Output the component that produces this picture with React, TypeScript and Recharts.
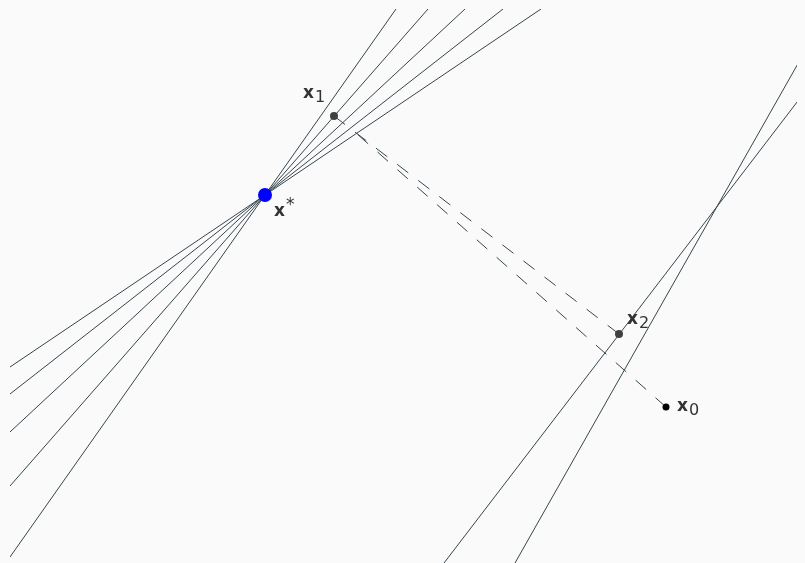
import React from 'react';
import { ScatterChart, Scatter, XAxis, YAxis, ReferenceLine } from 'recharts';

// Each segment is [xStart, yStart, xEnd, yEnd] in plot units (y grows upward).
// The five constraint lines meeting at x*
const pencilLines = [
  [0, 0.06, 3.86, 5.54],
  [0, 0.77, 4.18, 5.54],
  [0, 1.31, 4.55, 5.54],
  [0, 1.69, 4.93, 5.54],
  [0, 1.96, 5.31, 5.54],
];

// The two lines crossing on the right
const crossingLines = [
  [4.34, 0, 7.94, 4.7],
  [5.05, 0, 7.94, 5.1],
];

// Projection steps, drawn dashed
const projectionSteps = [
  [3.24, 4.47, 6.09, 2.29],
  [6.56, 1.56, 3.46, 4.3],
];

const pointSub = ['*', '1', '2', '0'];
const pointX = [2.55, 3.24, 6.09, 6.56];
const pointY = [3.68, 4.47, 2.29, 1.56];

const X_MAX = 7.95;
const Y_MAX = 5.54;

const LINE_COLOR = '#36454c';
const TEXT_COLOR = '#333333';

// marker radius, fill and label offset (from the point centre to the label baseline)
const markStyle: Record<string, { r: number; fill: string; dx: number; dy: number }> = {
  '*': { r: 7, fill: '#0000ff', dx: 9, dy: 21 },
  '1': { r: 4, fill: '#404040', dx: -31, dy: -18 },
  '2': { r: 4, fill: '#404040', dx: 8, dy: -10 },
  '0': { r: 3.5, fill: '#000000', dx: 11, dy: 4 },
};

const points = pointSub.map((sub, i) => ({ sub, x: pointX[i], y: pointY[i] }));

const PointMark = (props: any) => {
  const { cx, cy, payload } = props;
  const s = markStyle[payload.sub];
  const isStar = payload.sub === '*';
  return (
    <g>
      <circle cx={cx} cy={cy} r={s.r} fill={s.fill} stroke="none" />
      <text
        x={cx + s.dx}
        y={cy + s.dy}
        fill={TEXT_COLOR}
        fontFamily="DejaVu Sans, sans-serif"
        fontSize={17}
        fontWeight="bold"
      >
        x
        <tspan
          fontWeight="normal"
          fontSize={isStar ? 17 : 16}
          dx={isStar ? 1 : 1}
          dy={isStar ? -6 : 4}
        >
          {payload.sub}
        </tspan>
      </text>
    </g>
  );
};

const segmentLine = (seg: number[], key: string, dashed: boolean) => (
  <ReferenceLine
    key={key}
    segment={[
      { x: seg[0], y: seg[1] },
      { x: seg[2], y: seg[3] },
    ]}
    stroke={LINE_COLOR}
    strokeWidth={1}
    strokeDasharray={dashed ? '14 12.5' : undefined}
    ifOverflow="hidden"
  />
);

export default function App() {
  return (
    <>
      <div style={{ position: 'fixed', inset: 0, background: '#fafafa', zIndex: -1 }} />
      <ScatterChart width={797} height={555} margin={{ top: 1, right: 0, bottom: 0, left: 2 }}>
        <XAxis type="number" dataKey="x" domain={[0, X_MAX]} allowDataOverflow hide />
        <YAxis type="number" dataKey="y" domain={[0, Y_MAX]} allowDataOverflow hide />
        {pencilLines.map((s, i) => segmentLine(s, `p${i}`, false))}
        {crossingLines.map((s, i) => segmentLine(s, `c${i}`, false))}
        {projectionSteps.map((s, i) => segmentLine(s, `d${i}`, true))}
        <Scatter data={points} shape={PointMark} isAnimationActive={false} />
      </ScatterChart>
    </>
  );
}
